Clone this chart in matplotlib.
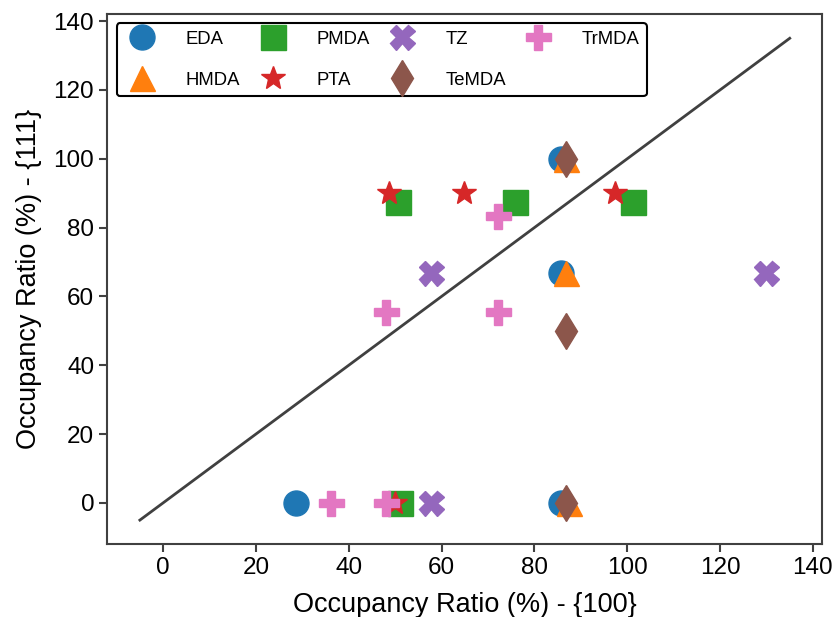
import matplotlib
matplotlib.use('Agg')
import matplotlib.pyplot as plt

plt.rcParams['font.family'] = ['Liberation Sans', 'DejaVu Sans']

# значения
eda_x = [28.6, 85.7, 85.7, 85.7]
eda_y = [0, 0, 66.7, 100]
hmda_x = [87.5, 86.7, 86.7]
hmda_y = [0, 66.7, 100]
pmda_x = [50.6, 75.9, 101.2, 51.0]
pmda_y = [87.5, 87.5, 87.5, 0]
pta_x = [48.6, 64.9, 97.3, 50.0]
pta_y = [90, 90, 90, 0]
tz_x = [57.7, 129.9, 57.7]
tz_y = [66.7, 66.7, 0]
temda_x = [86.7, 86.7, 86.7]
temda_y = [100, 50, 0]
trmda_x = [72.2, 48.1, 72.2, 36.1, 48.1]
trmda_y = [83.3, 55.6, 55.6, 0, 0]
diag = [-5, 135]

series = [
    ('EDA', eda_x, eda_y, 'o', '#1f77b4'),
    ('HMDA', hmda_x, hmda_y, '^', '#ff7f0e'),
    ('PMDA', pmda_x, pmda_y, 's', '#2ca02c'),
    ('PTA', pta_x, pta_y, '*', '#d62728'),
    ('TZ', tz_x, tz_y, 'X', '#9467bd'),
    ('TeMDA', temda_x, temda_y, 'd', '#8c564b'),
    ('TrMDA', trmda_x, trmda_y, 'P', '#e377c2'),
]

fig = plt.figure(figsize=(8.39, 6.17), dpi=100)
ax = fig.add_axes([0.128, 0.118, 0.852, 0.859])

for name, xs, ys, m, c in series:
    ax.plot(xs, ys, linestyle='none', marker=m, color=c, markersize=18, label=name)

ax.plot(diag, diag, color='#404040', linewidth=2)

ax.set_xlim(-12, 142)
ax.set_ylim(-12, 142)
ax.set_xticks(range(0, 141, 20))
ax.set_yticks(range(0, 141, 20))
ax.tick_params(labelsize=17.5, length=6, width=1.5, color='#404040')
for s in ax.spines.values():
    s.set_linewidth(1.5)
    s.set_color('#404040')
ax.set_xlabel('Occupancy Ratio (%) - {100}', fontsize=19.5, labelpad=9)
ax.set_ylabel('Occupancy Ratio (%) - {111}', fontsize=19.5, labelpad=8)

leg = ax.legend(loc='upper left', ncol=4, fontsize=13.3, handletextpad=1.35,
                columnspacing=0.75, labelspacing=1.3, framealpha=1)
leg.get_frame().set_edgecolor('black')
leg.get_frame().set_linewidth(1.5)

plt.savefig('out.png')
